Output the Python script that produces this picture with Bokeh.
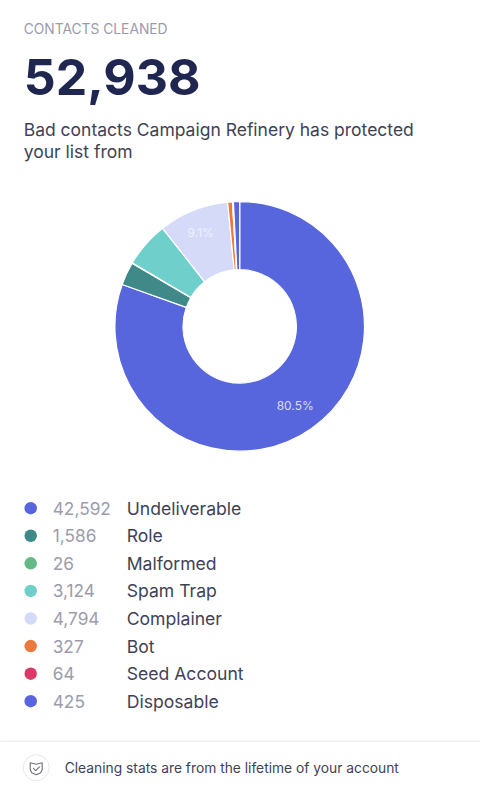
import math
from bokeh.plotting import figure
from bokeh.models import ColumnDataSource, Range1d
from bokeh.core.properties import value
from bokeh.embed import file_html
from bokeh.resources import INLINE

W, H = 480, 793
categories = ["Undeliverable", "Role", "Malformed", "Spam Trap", "Complainer", "Bot", "Seed Account", "Disposable"]
counts = [42592, 1586, 26, 3124, 4794, 327, 64, 425]
count_labels = ["42,592", "1,586", "26", "3,124", "4,794", "327", "64", "425"]
colors = ["#5866DE", "#3F8A89", "#63BA85", "#6ECFCB", "#D5DAF8", "#EC7A3F", "#D93A68", "#5866DE"]
header = "CONTACTS CLEANED"
total_label = "52,938"
intro = ["Bad contacts Campaign Refinery has protected", "your list from"]
footer = "Cleaning stats are from the lifetime of your account"
pct_labels = ["80.5%", "9.1%"]
FONT = value("Inter")


def Y(v):
    return H - v


p = figure(width=W, height=H, x_range=Range1d(0.8, W + 0.8), y_range=Range1d(-0.8, H - 0.8),
           output_backend="svg", toolbar_location=None, min_border=0,
           outline_line_color=None, background_fill_color="white")
p.axis.visible = False
p.grid.visible = False

# donut, clockwise from 12 o'clock
total = sum(counts)
cum = 0
starts, ends = [], []
for c in counts:
    a0 = math.pi / 2 - 2 * math.pi * cum / total
    cum += c
    a1 = math.pi / 2 - 2 * math.pi * cum / total
    starts.append(a1)
    ends.append(a0)
src = ColumnDataSource(dict(start=starts, end=ends, color=colors))
p.annular_wedge(x=240, y=Y(326.7), inner_radius=56.7, outer_radius=124.8,
                start_angle="start", end_angle="end", fill_color="color",
                line_color="white", line_width=1.2, source=src)
p.text(x=[295.5, 201], y=[Y(405.5), Y(233)], text=pct_labels, text_color=["#DADDF6", "#F0F1FC"],
       text_font=FONT, text_font_size="12px", text_align="center", text_baseline="middle")

# header
p.text(x=[24], y=[Y(29.5)], text=[header], text_color="#9A9AAE", text_font=FONT,
       text_font_size="13.8px", text_baseline="middle")
p.text(x=[24], y=[Y(77)], text=[total_label], text_color="#1F2650", text_font=FONT,
       text_font_size="50px", text_font_style="bold", text_baseline="middle")
p.text(x=[24, 24], y=[Y(130), Y(152)], text=intro, text_color="#3E4256", text_font=FONT,
       text_font_size="17.5px", text_baseline="middle")

# legend
step = (701.5 - 508.5) / 7
ys = [Y(508.5 + i * step) for i in range(len(categories))]
p.scatter(x=[31] * len(ys), y=ys, size=12.5, marker="circle", fill_color=colors, line_color=None)
p.text(x=[53] * len(ys), y=ys, text=count_labels, text_color="#9C9CAC", text_font=FONT,
       text_font_size="17.3px", text_baseline="middle")
p.text(x=[127] * len(ys), y=ys, text=categories, text_color="#3E4256", text_font=FONT,
       text_font_size="17.6px", text_baseline="middle")

# footer
p.line(x=[0, W + 2], y=[Y(741.5), Y(741.5)], line_color="#E6E6EA", line_width=1)
p.scatter(x=[36.5], y=[Y(768)], size=26, marker="circle", fill_color="white", line_color="#E6E6EC", line_width=1)
p.patch(x=[30.5, 36.5, 42.5, 42.5, 41, 36.5, 32, 30.5],
        y=[Y(763), Y(764.5), Y(763), Y(770), Y(773), Y(775), Y(773), Y(770)],
        fill_color="white", line_color="#6B6E80", line_width=1.1)
p.line(x=[33.5, 36, 40], y=[Y(768.5), Y(771), Y(767)], line_color="#6B6E80", line_width=1.1)
p.text(x=[65], y=[Y(768.5)], text=[footer], text_color="#3E4256", text_font=FONT,
       text_font_size="13.8px", text_baseline="middle")

open("out.html", "w").write(file_html(p, INLINE))
